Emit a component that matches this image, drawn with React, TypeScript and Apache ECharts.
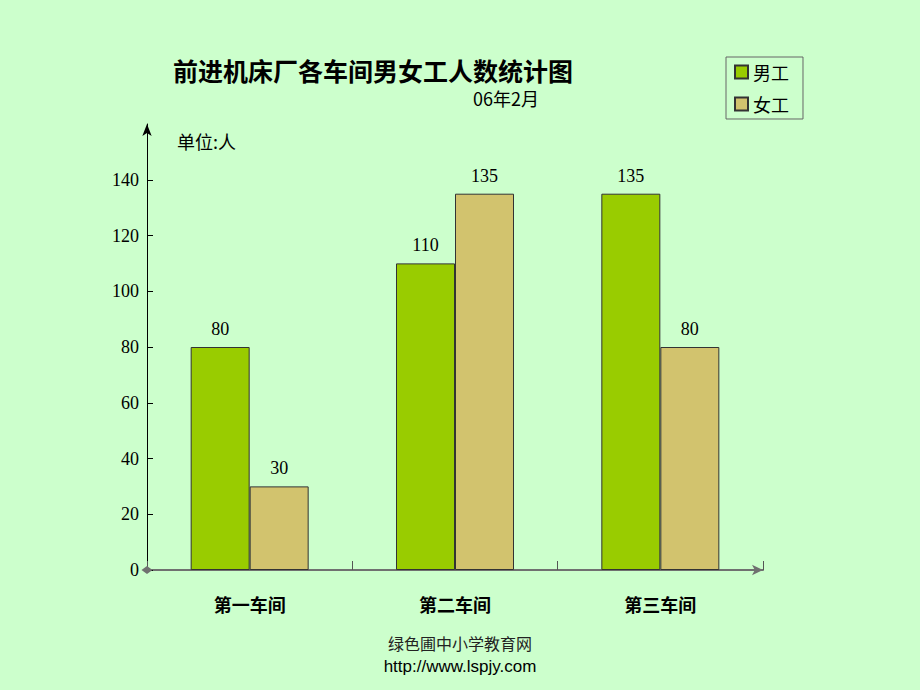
import React, { useEffect, useRef } from "react";
import * as echarts from "echarts";

const categories = ["第一车间", "第二车间", "第三车间"];
const maleWorkers = [80, 110, 135];
const femaleWorkers = [30, 135, 80];
const tickValues = [0, 20, 40, 60, 80, 100, 120, 140];
const seriesNames = ["男工", "女工"];

export default function App() {
  const ref = useRef<HTMLDivElement>(null);
  useEffect(() => {
    if (!ref.current) return;
    const chart = echarts.init(ref.current, null, { renderer: "svg" });
    const serif = "'Liberation Serif', 'DejaVu Serif', serif";
    const cjk = "'Noto Sans CJK SC', sans-serif";
    chart.setOption({
      animation: false,
      backgroundColor: "#CCFFCC",
      title: {
        text: "前进机床厂各车间男女工人数统计图",
        left: 168,
        top: 52,
        textStyle: { fontFamily: cjk, fontSize: 25, fontWeight: "bold", color: "#000" },
      },
      legend: {
        orient: "vertical",
        left: 726,
        top: 57,
        data: seriesNames,
        icon: "rect",
        itemWidth: 13,
        itemHeight: 13,
        itemGap: 14,
        padding: [6, 14, 6, 8],
        borderColor: "#666",
        borderWidth: 1,
        textStyle: { fontFamily: cjk, fontSize: 18, color: "#000" },
      },
      grid: { left: 147, right: 157, top: 124, bottom: 120, containLabel: false },
      xAxis: {
        type: "category",
        data: categories,
        axisLine: {
          lineStyle: { color: "#707070", width: 2 },
          symbol: ["diamond", "arrow"],
          symbolSize: [8, 11],
        },
        axisTick: { show: true, inside: true, length: 9, lineStyle: { color: "#555", width: 1 } },
        axisLabel: { fontFamily: cjk, fontSize: 18, fontWeight: "bold", color: "#000", margin: 25 },
        splitLine: { show: false },
      },
      yAxis: {
        type: "value",
        min: 0,
        max: 160,
        interval: 20,
        axisLine: {
          show: true,
          lineStyle: { color: "#000", width: 1 },
          symbol: ["none", "arrow"],
          symbolSize: [7, 12],
        },
        axisTick: { show: true, inside: true, length: 6, customValues: tickValues, lineStyle: { color: "#000" } },
        axisLabel: { customValues: tickValues, fontFamily: serif, fontSize: 18, color: "#000", margin: 8 },
        splitLine: { show: false },
      },
      series: [
        {
          name: seriesNames[0],
          type: "bar",
          data: maleWorkers,
          barWidth: 59,
          barGap: "0%",
          z: 1,
          itemStyle: { color: "#99CC00", borderColor: "#333", borderWidth: 1 },
          label: { show: true, position: "top", distance: 9, fontFamily: serif, fontSize: 18, color: "#000" },
        },
        {
          name: seriesNames[1],
          type: "bar",
          data: femaleWorkers,
          barWidth: 59,
          barGap: "0%",
          z: 1,
          itemStyle: { color: "#D2C36E", borderColor: "#333", borderWidth: 1 },
          label: { show: true, position: "top", distance: 9, fontFamily: serif, fontSize: 18, color: "#000" },
        },
      ],
      graphic: [
        {
          type: "text",
          left: 473,
          top: 89,
          style: { text: "06年2月", font: `18px ${cjk}`, fill: "#000" },
        },
        {
          type: "text",
          left: 177,
          top: 132,
          style: { text: "单位:人", font: `18px ${cjk}`, fill: "#000" },
        },
        {
          type: "text",
          x: 460,
          y: 643,
          style: { text: "绿色圃中小学教育网", font: `16px ${cjk}`, fill: "#222", align: "center", verticalAlign: "middle" },
        },
        {
          type: "text",
          x: 460,
          y: 666,
          style: { text: "http://www.lspjy.com", font: "17px 'Liberation Sans', Arial, sans-serif", fill: "#000", align: "center", verticalAlign: "middle" },
        },
      ],
    });
    return () => chart.dispose();
  }, []);
  return (
    <div
      ref={ref}
      style={{ position: "absolute", left: 0, top: 0, width: 920, height: 690 }}
    />
  );
}
